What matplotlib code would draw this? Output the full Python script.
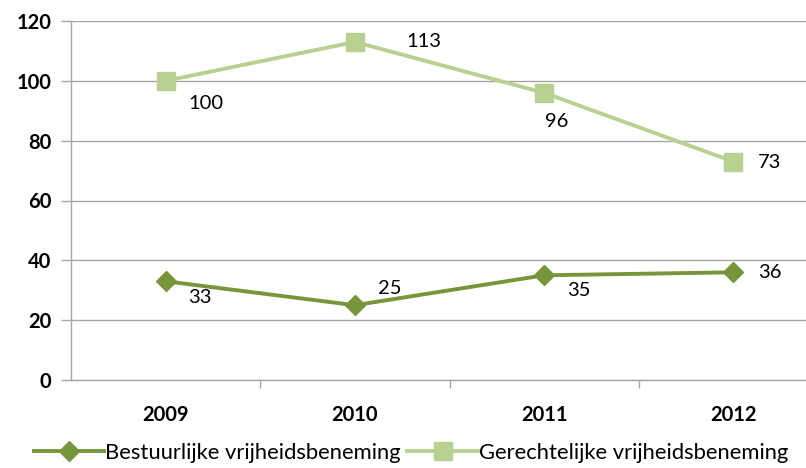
import matplotlib
matplotlib.use('Agg')
import matplotlib.pyplot as plt
from matplotlib.ticker import FixedLocator

# data
years = ['2009', '2010', '2011', '2012']
bestuurlijk = [33, 25, 35, 36]
gerechtelijk = [100, 113, 96, 73]
series_names = ['Bestuurlijke vrijheidsbeneming', 'Gerechtelijke vrijheidsbeneming']

# label offsets (points) for each data label, like Excel's manual placement
off_best = [(25, -12), (25, 12), (25, -11), (26, 0)]
off_ger = [(29, -16), (50, 0), (9, -21), (26, -1)]

plt.rcParams['font.family'] = ['Lato', 'DejaVu Sans']

fig = plt.figure(figsize=(8.06, 4.68), dpi=100)
ax = fig.add_axes([71 / 806, 1 - 380 / 468, 1 - 71 / 806, 359 / 468])

dark = '#77963C'
light = '#B9D190'
grid_c = '#A6A6A6'

x = list(range(len(years)))
ax.plot(x, bestuurlijk, color=dark, linewidth=2.8, marker='D', markersize=10.5,
        label=series_names[0], clip_on=False, zorder=3)
ax.plot(x, gerechtelijk, color=light, linewidth=2.8, marker='s', markersize=12.5,
        label=series_names[1], clip_on=False, zorder=3)

for i in x:
    ax.annotate(str(bestuurlijk[i]), (i, bestuurlijk[i]), xytext=off_best[i],
                textcoords='offset points', ha='center', va='center', fontsize=14.5,
                color='#000000')
    ax.annotate(str(gerechtelijk[i]), (i, gerechtelijk[i]), xytext=off_ger[i],
                textcoords='offset points', ha='center', va='center', fontsize=14.5,
                color='#000000')

# axes styling
ax.set_ylim(0, 120)
ax.set_yticks(range(0, 121, 20))
ax.set_xlim(-0.5, 3.5 - 22 / 189)
ax.set_xticks(x)
ax.set_xticklabels(years)
ax.xaxis.set_minor_locator(FixedLocator([0.5, 1.5, 2.5]))
ax.tick_params(axis='x', which='major', length=0, pad=18, labelsize=14.5)
ax.tick_params(axis='x', which='minor', length=6, color=grid_c, width=1)
ax.tick_params(axis='y', length=7, color=grid_c, width=1, pad=7, labelsize=14.5)
for lab in ax.get_xticklabels() + ax.get_yticklabels():
    lab.set_fontweight('bold')

ax.grid(axis='y', color=grid_c, linewidth=1)
ax.set_axisbelow(True)
for side in ['top', 'right']:
    ax.spines[side].set_visible(False)
for side in ['left', 'bottom']:
    ax.spines[side].set_color(grid_c)
    ax.spines[side].set_linewidth(1)

fig.legend(loc='center', bbox_to_anchor=(0.51, 0.032), ncol=2, frameon=False,
           fontsize=15.8, handlelength=3.2, handletextpad=0.05, columnspacing=0.3,
           borderaxespad=0)

fig.savefig('out.png', dpi=100)
